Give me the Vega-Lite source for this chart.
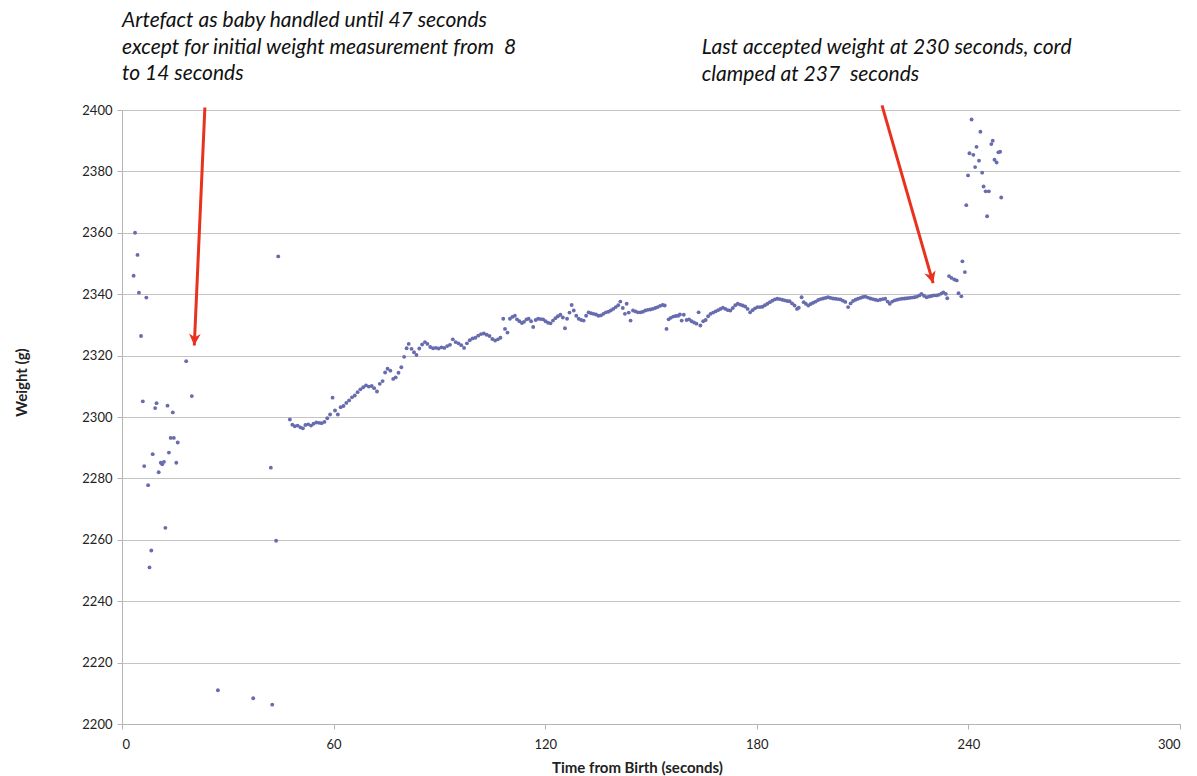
{
  "$schema": "https://vega.github.io/schema/vega-lite/v6.json",
  "width": 1058,
  "height": 614,
  "autosize": "none",
  "padding": {"left": 122, "top": 110, "right": 17, "bottom": 52},
  "background": "white",
  "config": {
    "view": {"stroke": null},
    "font": "Lato",
    "axis": {
      "labelFont": "Lato",
      "labelFontSize": 13,
      "labelColor": "#222222",
      "titleFont": "Lato",
      "titleFontSize": 15,
      "titleFontWeight": "bold",
      "titleColor": "#222222",
      "domainColor": "#b5b5b5",
      "tickColor": "#b5b5b5",
      "tickSize": 5,
      "gridColor": "#c4c4c4",
      "gridWidth": 1
    }
  },
  "datasets": {
    "weights": [
      {"t": 3.3, "w": 2346.0}, {"t": 3.7, "w": 2360.0}, {"t": 4.4, "w": 2352.8}, {"t": 4.8, "w": 2340.5},
      {"t": 5.4, "w": 2326.4}, {"t": 5.9, "w": 2305.1}, {"t": 6.3, "w": 2284.0}, {"t": 6.9, "w": 2338.9},
      {"t": 7.4, "w": 2277.8}, {"t": 7.8, "w": 2251.0}, {"t": 8.3, "w": 2256.5}, {"t": 8.7, "w": 2287.9},
      {"t": 9.4, "w": 2302.9}, {"t": 9.8, "w": 2304.5}, {"t": 10.4, "w": 2282.0}, {"t": 11.0, "w": 2285.1},
      {"t": 11.4, "w": 2284.6}, {"t": 11.9, "w": 2285.4}, {"t": 12.3, "w": 2263.9}, {"t": 12.9, "w": 2303.7},
      {"t": 13.3, "w": 2288.4}, {"t": 13.8, "w": 2293.2}, {"t": 14.4, "w": 2301.5}, {"t": 14.7, "w": 2293.2},
      {"t": 15.4, "w": 2285.1}, {"t": 15.8, "w": 2291.7}, {"t": 18.2, "w": 2318.2}, {"t": 19.8, "w": 2306.8},
      {"t": 27.2, "w": 2211.0}, {"t": 37.2, "w": 2208.4}, {"t": 42.2, "w": 2283.5}, {"t": 42.6, "w": 2206.3},
      {"t": 43.7, "w": 2259.7}, {"t": 44.3, "w": 2352.3},
      {"t": 47.6, "w": 2299.2}, {"t": 48.3, "w": 2297.5}, {"t": 49.0, "w": 2297.0}, {"t": 49.8, "w": 2297.2},
      {"t": 50.6, "w": 2296.6}, {"t": 51.3, "w": 2296.3}, {"t": 52.0, "w": 2297.4}, {"t": 52.8, "w": 2297.6},
      {"t": 53.6, "w": 2297.2}, {"t": 54.3, "w": 2297.8}, {"t": 55.1, "w": 2298.2}, {"t": 55.9, "w": 2298.1},
      {"t": 56.6, "w": 2298.0}, {"t": 57.4, "w": 2298.4}, {"t": 58.2, "w": 2299.6}, {"t": 59.0, "w": 2300.8},
      {"t": 59.7, "w": 2306.3}, {"t": 60.4, "w": 2302.1}, {"t": 61.2, "w": 2300.8}, {"t": 62.0, "w": 2303.2},
      {"t": 62.8, "w": 2303.6}, {"t": 63.6, "w": 2304.6}, {"t": 64.4, "w": 2305.4}, {"t": 65.2, "w": 2306.4},
      {"t": 66.0, "w": 2307.0}, {"t": 66.8, "w": 2308.1}, {"t": 67.6, "w": 2309.0}, {"t": 68.4, "w": 2309.7},
      {"t": 69.2, "w": 2310.3}, {"t": 70.0, "w": 2309.9}, {"t": 70.8, "w": 2310.1}, {"t": 71.5, "w": 2309.4},
      {"t": 72.3, "w": 2308.3}, {"t": 73.1, "w": 2310.8}, {"t": 73.9, "w": 2311.7}, {"t": 74.6, "w": 2314.5},
      {"t": 75.3, "w": 2315.7}, {"t": 76.1, "w": 2315.1}, {"t": 76.9, "w": 2312.4}, {"t": 77.6, "w": 2312.9},
      {"t": 78.4, "w": 2314.4}, {"t": 79.2, "w": 2316.2}, {"t": 80.0, "w": 2319.6}, {"t": 80.7, "w": 2322.4},
      {"t": 81.3, "w": 2323.8}, {"t": 82.1, "w": 2322.2}, {"t": 82.8, "w": 2321.1}, {"t": 83.5, "w": 2320.2},
      {"t": 84.3, "w": 2322.3}, {"t": 85.1, "w": 2323.6}, {"t": 85.9, "w": 2324.4}, {"t": 86.6, "w": 2323.8},
      {"t": 87.4, "w": 2322.8}, {"t": 88.2, "w": 2322.4}, {"t": 89.0, "w": 2322.5}, {"t": 89.8, "w": 2322.3},
      {"t": 90.6, "w": 2322.7}, {"t": 91.4, "w": 2322.5}, {"t": 92.2, "w": 2323.1}, {"t": 93.0, "w": 2323.5},
      {"t": 93.8, "w": 2325.3}, {"t": 94.6, "w": 2324.4}, {"t": 95.4, "w": 2324.0}, {"t": 96.2, "w": 2323.4},
      {"t": 97.0, "w": 2322.5}, {"t": 97.8, "w": 2324.0}, {"t": 98.6, "w": 2325.0}, {"t": 99.4, "w": 2325.6},
      {"t": 100.2, "w": 2325.8}, {"t": 101.0, "w": 2326.5}, {"t": 101.8, "w": 2327.0}, {"t": 102.6, "w": 2327.2},
      {"t": 103.4, "w": 2326.8}, {"t": 104.2, "w": 2326.4}, {"t": 105.0, "w": 2325.4}, {"t": 105.8, "w": 2324.9},
      {"t": 106.6, "w": 2325.3}, {"t": 107.3, "w": 2325.8}, {"t": 108.1, "w": 2332.0}, {"t": 108.6, "w": 2328.7},
      {"t": 109.3, "w": 2327.5}, {"t": 110.0, "w": 2332.0}, {"t": 110.7, "w": 2332.6}, {"t": 111.4, "w": 2333.0},
      {"t": 112.0, "w": 2331.8}, {"t": 112.7, "w": 2331.2}, {"t": 113.4, "w": 2330.6}, {"t": 114.0, "w": 2331.0},
      {"t": 114.7, "w": 2331.8}, {"t": 115.3, "w": 2332.0}, {"t": 116.0, "w": 2331.2}, {"t": 116.6, "w": 2329.3},
      {"t": 117.3, "w": 2331.6}, {"t": 118.0, "w": 2332.0}, {"t": 118.7, "w": 2331.9}, {"t": 119.4, "w": 2331.8},
      {"t": 120.1, "w": 2331.2}, {"t": 120.8, "w": 2330.7}, {"t": 121.5, "w": 2330.5}, {"t": 122.2, "w": 2331.4},
      {"t": 122.9, "w": 2332.2}, {"t": 123.6, "w": 2332.8}, {"t": 124.3, "w": 2333.3}, {"t": 125.0, "w": 2332.4},
      {"t": 125.6, "w": 2328.9}, {"t": 126.2, "w": 2332.0}, {"t": 126.9, "w": 2334.0}, {"t": 127.5, "w": 2336.5},
      {"t": 128.1, "w": 2334.7}, {"t": 128.8, "w": 2333.0}, {"t": 129.5, "w": 2332.0}, {"t": 130.2, "w": 2331.6},
      {"t": 130.9, "w": 2331.4}, {"t": 131.6, "w": 2333.0}, {"t": 132.3, "w": 2334.1}, {"t": 133.0, "w": 2333.8},
      {"t": 133.7, "w": 2333.6}, {"t": 134.4, "w": 2333.4}, {"t": 135.1, "w": 2333.0}, {"t": 135.8, "w": 2333.1},
      {"t": 136.5, "w": 2333.6}, {"t": 137.2, "w": 2334.1}, {"t": 137.9, "w": 2334.3}, {"t": 138.6, "w": 2334.7},
      {"t": 139.3, "w": 2335.2}, {"t": 140.0, "w": 2335.8}, {"t": 140.7, "w": 2336.4}, {"t": 141.3, "w": 2337.6},
      {"t": 142.0, "w": 2335.5}, {"t": 142.6, "w": 2333.6}, {"t": 143.1, "w": 2336.9}, {"t": 143.7, "w": 2334.0},
      {"t": 144.2, "w": 2331.4}, {"t": 144.9, "w": 2334.7}, {"t": 145.6, "w": 2334.4}, {"t": 146.3, "w": 2334.1},
      {"t": 147.0, "w": 2334.1}, {"t": 147.7, "w": 2334.3}, {"t": 148.4, "w": 2334.7}, {"t": 149.1, "w": 2334.9},
      {"t": 149.8, "w": 2335.0}, {"t": 150.5, "w": 2335.2}, {"t": 151.2, "w": 2335.5}, {"t": 151.9, "w": 2335.8},
      {"t": 152.6, "w": 2336.2}, {"t": 153.3, "w": 2336.5}, {"t": 153.9, "w": 2336.3}, {"t": 154.4, "w": 2328.7},
      {"t": 155.0, "w": 2331.8}, {"t": 155.6, "w": 2332.3}, {"t": 156.3, "w": 2332.7}, {"t": 157.0, "w": 2332.9},
      {"t": 157.7, "w": 2333.0}, {"t": 158.2, "w": 2333.4}, {"t": 158.7, "w": 2331.4}, {"t": 159.3, "w": 2333.3},
      {"t": 160.1, "w": 2331.6}, {"t": 160.8, "w": 2331.8}, {"t": 161.5, "w": 2331.2}, {"t": 162.2, "w": 2330.8},
      {"t": 162.9, "w": 2330.4}, {"t": 163.5, "w": 2334.1}, {"t": 164.0, "w": 2329.8}, {"t": 164.8, "w": 2331.2},
      {"t": 165.5, "w": 2331.6}, {"t": 166.2, "w": 2332.8}, {"t": 166.9, "w": 2333.6}, {"t": 167.6, "w": 2334.0},
      {"t": 168.3, "w": 2334.4}, {"t": 169.0, "w": 2334.8}, {"t": 169.7, "w": 2335.2}, {"t": 170.4, "w": 2335.6},
      {"t": 171.1, "w": 2335.2}, {"t": 171.8, "w": 2334.8}, {"t": 172.5, "w": 2334.7}, {"t": 173.2, "w": 2335.5},
      {"t": 173.9, "w": 2336.4}, {"t": 174.6, "w": 2336.9}, {"t": 175.3, "w": 2336.6}, {"t": 176.0, "w": 2336.3},
      {"t": 176.7, "w": 2336.0}, {"t": 177.4, "w": 2335.2}, {"t": 178.1, "w": 2334.1}, {"t": 178.8, "w": 2334.8},
      {"t": 179.5, "w": 2335.4}, {"t": 180.2, "w": 2335.8}, {"t": 180.9, "w": 2335.8}, {"t": 181.6, "w": 2335.9},
      {"t": 182.3, "w": 2336.4}, {"t": 183.0, "w": 2336.9}, {"t": 183.7, "w": 2337.4}, {"t": 184.4, "w": 2337.9},
      {"t": 185.1, "w": 2338.3}, {"t": 185.8, "w": 2338.5}, {"t": 186.5, "w": 2338.4}, {"t": 187.2, "w": 2338.2},
      {"t": 187.9, "w": 2338.0}, {"t": 188.6, "w": 2337.8}, {"t": 189.3, "w": 2337.7}, {"t": 190.0, "w": 2337.0},
      {"t": 190.7, "w": 2336.3}, {"t": 191.4, "w": 2335.2}, {"t": 191.9, "w": 2335.6}, {"t": 192.7, "w": 2339.0},
      {"t": 193.3, "w": 2337.4}, {"t": 193.9, "w": 2336.9}, {"t": 194.6, "w": 2336.3}, {"t": 195.3, "w": 2336.8},
      {"t": 196.0, "w": 2337.2}, {"t": 196.7, "w": 2337.6}, {"t": 197.4, "w": 2338.1}, {"t": 198.1, "w": 2338.4},
      {"t": 198.8, "w": 2338.6}, {"t": 199.5, "w": 2338.8}, {"t": 200.2, "w": 2339.0}, {"t": 200.9, "w": 2338.8},
      {"t": 201.6, "w": 2338.6}, {"t": 202.3, "w": 2338.5}, {"t": 203.0, "w": 2338.4}, {"t": 203.7, "w": 2338.3},
      {"t": 204.4, "w": 2337.9}, {"t": 205.1, "w": 2337.5}, {"t": 205.9, "w": 2335.8}, {"t": 206.6, "w": 2337.0},
      {"t": 207.3, "w": 2337.8}, {"t": 208.0, "w": 2338.2}, {"t": 208.7, "w": 2338.5}, {"t": 209.4, "w": 2338.8},
      {"t": 210.1, "w": 2339.1}, {"t": 210.8, "w": 2339.2}, {"t": 211.5, "w": 2338.9}, {"t": 212.2, "w": 2338.6},
      {"t": 212.9, "w": 2338.4}, {"t": 213.6, "w": 2338.2}, {"t": 214.3, "w": 2338.0}, {"t": 215.0, "w": 2338.2},
      {"t": 215.7, "w": 2338.4}, {"t": 216.4, "w": 2338.5}, {"t": 217.1, "w": 2337.6}, {"t": 217.7, "w": 2336.9},
      {"t": 218.4, "w": 2337.6}, {"t": 219.1, "w": 2338.0}, {"t": 219.8, "w": 2338.2}, {"t": 220.5, "w": 2338.4},
      {"t": 221.2, "w": 2338.5}, {"t": 221.9, "w": 2338.6}, {"t": 222.6, "w": 2338.7}, {"t": 223.3, "w": 2338.8},
      {"t": 224.0, "w": 2338.9}, {"t": 224.7, "w": 2339.0}, {"t": 225.4, "w": 2339.2}, {"t": 226.1, "w": 2339.6},
      {"t": 226.7, "w": 2340.1}, {"t": 227.4, "w": 2339.5}, {"t": 228.1, "w": 2339.0}, {"t": 228.8, "w": 2339.2},
      {"t": 229.5, "w": 2339.4}, {"t": 230.2, "w": 2339.6}, {"t": 230.9, "w": 2339.6}, {"t": 231.6, "w": 2339.8},
      {"t": 232.3, "w": 2340.2}, {"t": 232.9, "w": 2340.6}, {"t": 233.6, "w": 2340.1}, {"t": 234.0, "w": 2338.7},
      {"t": 234.5, "w": 2345.9}, {"t": 235.2, "w": 2345.3}, {"t": 236.0, "w": 2344.8}, {"t": 236.7, "w": 2344.5},
      {"t": 237.2, "w": 2340.3}, {"t": 238.0, "w": 2339.3}, {"t": 238.3, "w": 2350.7}, {"t": 239.0, "w": 2347.2},
      {"t": 239.4, "w": 2369.0}, {"t": 239.9, "w": 2378.7}, {"t": 240.3, "w": 2385.9}, {"t": 240.9, "w": 2396.9},
      {"t": 241.4, "w": 2385.4}, {"t": 241.9, "w": 2381.4}, {"t": 242.3, "w": 2388.0}, {"t": 243.0, "w": 2383.5},
      {"t": 243.4, "w": 2392.9}, {"t": 243.9, "w": 2379.6}, {"t": 244.3, "w": 2375.1}, {"t": 244.9, "w": 2373.5},
      {"t": 245.3, "w": 2365.4}, {"t": 245.8, "w": 2373.5}, {"t": 246.5, "w": 2388.9}, {"t": 246.9, "w": 2390.0},
      {"t": 247.4, "w": 2383.8}, {"t": 248.0, "w": 2382.9}, {"t": 248.5, "w": 2386.2}, {"t": 249.0, "w": 2386.4},
      {"t": 249.3, "w": 2371.5}
    ],
    "arrows": [
      {"t": 23.5, "w": 2400.8, "t2": 20.5, "w2": 2323.3, "heading": 2.7},
      {"t": 215.5, "w": 2401.5, "t2": 230.0, "w2": 2343.6, "heading": -16}
    ],
    "notes": [
      {"t": 0, "w": 2426.9, "note": "Artefact as baby handled until 47 seconds\nexcept for initial weight measurement from \u00a08\nto 14 seconds"},
      {"t": 164.4, "w": 2418.2, "note": "Last accepted weight at 230 seconds, cord\nclamped at 237 \u00a0seconds"}
    ]
  },
  "encoding": {
    "x": {
      "field": "t",
      "type": "quantitative",
      "scale": {"domain": [0, 300], "nice": false},
      "axis": {
        "title": "Time from Birth (seconds)",
        "values": [0, 60, 120, 180, 240, 300],
        "grid": false,
        "labelPadding": 9,
        "titlePadding": 9,
        "titleX": 515
      }
    },
    "y": {
      "field": "w",
      "type": "quantitative",
      "scale": {"domain": [2200, 2400], "nice": false, "zero": false},
      "axis": {
        "title": "Weight (g)",
        "format": "d",
        "values": [2200, 2220, 2240, 2260, 2280, 2300, 2320, 2340, 2360, 2380, 2400],
        "grid": true,
        "labelPadding": 5,
        "titlePadding": 52,
        "titleY": 272
      }
    }
  },
  "layer": [
    {
      "data": {"name": "weights"},
      "mark": {"type": "point", "shape": "circle", "filled": true, "size": 15, "color": "#676cae", "opacity": 1}
    },
    {
      "data": {"name": "arrows"},
      "mark": {"type": "rule", "color": "#e8321e", "strokeWidth": 3},
      "encoding": {
        "x2": {"field": "t2"},
        "y2": {"field": "w2"}
      }
    },
    {
      "data": {"name": "arrows"},
      "mark": {"type": "point", "filled": true, "opacity": 1, "color": "#e8321e", "size": 150, "shape": "M0,0L-0.95,-1.9L0,-1.35L0.95,-1.9Z"},
      "encoding": {
        "x": {"field": "t2", "type": "quantitative"},
        "y": {"field": "w2", "type": "quantitative"},
        "angle": {"field": "heading", "type": "quantitative", "scale": null}
      }
    },
    {
      "data": {"name": "notes"},
      "mark": {"type": "text", "align": "left", "baseline": "alphabetic", "font": "Lato", "fontStyle": "italic", "fontSize": 21, "lineHeight": 26.5, "lineBreak": "\n", "color": "#111111"},
      "encoding": {
        "text": {"field": "note"}
      }
    }
  ]
}
